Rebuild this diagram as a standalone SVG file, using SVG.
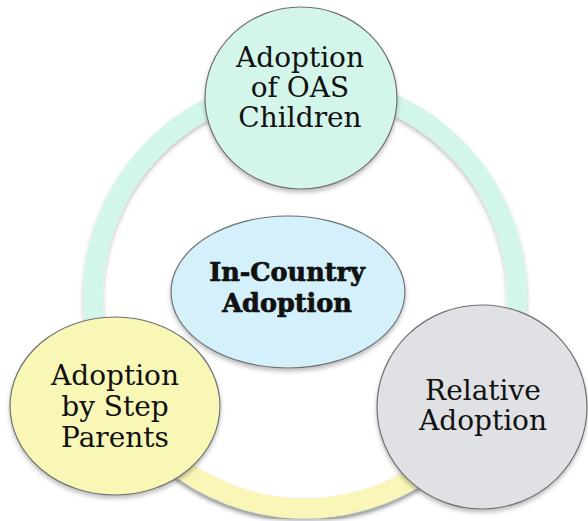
<svg xmlns="http://www.w3.org/2000/svg" width="588" height="521" viewBox="0 0 588 521">
  <style>
    .node { stroke: #707070; stroke-width: 1.2; filter: url(#shadow); }
    .lbl { font-family: "DejaVu Serif", "Liberation Serif", serif; font-size: 28px; fill: #111; text-anchor: middle; }
    .bold { font-weight: bold; font-size: 25.5px; stroke: #111; stroke-width: 0.7; }
    .ring { fill: none; stroke-width: 20; filter: url(#shadow); }
  </style>
  <defs>
    <filter id="shadow" x="-20%" y="-20%" width="140%" height="140%">
      <feDropShadow dx="0" dy="3" stdDeviation="2" flood-color="#000" flood-opacity="0.25"/>
    </filter>
  </defs>
  <rect width="588" height="521" fill="#ffffff"/>
  <g id="connectors">
    <circle class="ring" cx="305" cy="297" r="212" stroke="#d2f6ea"/>
    <path class="ring" d="M 441 459 A 212 212 0 0 1 169 459" stroke="#f9f6b7"/>
  </g>
  <g id="node-oas">
    <ellipse class="node" cx="301" cy="98" rx="96" ry="91" fill="#d3f5ea"/>
    <text class="lbl" x="300" y="67">Adoption</text>
    <text class="lbl" x="300" y="97">of OAS</text>
    <text class="lbl" x="300" y="127">Children</text>
  </g>
  <g id="node-center">
    <ellipse class="node" cx="288" cy="292" rx="117" ry="76" fill="#d3f0fb"/>
    <text class="lbl bold" x="287" y="281">In-Country</text>
    <text class="lbl bold" x="287" y="312">Adoption</text>
  </g>
  <g id="node-step">
    <ellipse class="node" cx="115" cy="406" rx="105" ry="89" fill="#f9f7b6"/>
    <text class="lbl" x="115" y="385">Adoption</text>
    <text class="lbl" x="115" y="416">by Step</text>
    <text class="lbl" x="115" y="447">Parents</text>
  </g>
  <g id="node-relative">
    <ellipse class="node" cx="482" cy="407" rx="105" ry="102" fill="#e0e1e4"/>
    <text class="lbl" x="483" y="400">Relative</text>
    <text class="lbl" x="483" y="430">Adoption</text>
  </g>
</svg>
